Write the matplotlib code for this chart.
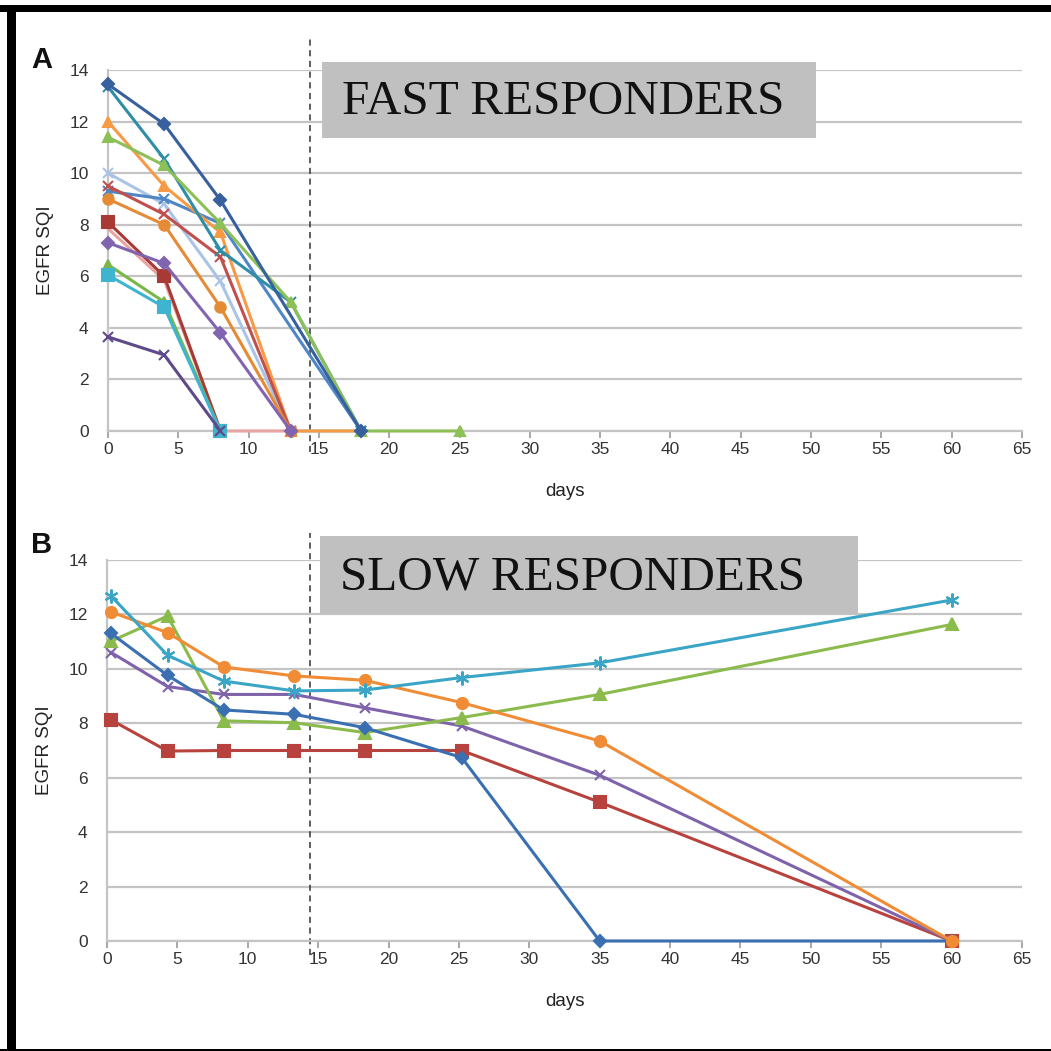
import matplotlib
matplotlib.use("Agg")
import matplotlib.pyplot as plt
from matplotlib.patches import Rectangle

plt.rcParams["font.family"] = ["Liberation Sans", "DejaVu Sans"]

# ---------------- data ----------------
a_days = [0, 4, 8, 13, 18, 25]
a_dark_blue = [13.45, 11.9, 8.95, None, 0, None]
a_teal = [13.35, 10.55, 7.0, 5.0, 0, None]
a_orange_tri = [12.0, 9.5, 7.7, 0, 0, None]
a_light_green = [11.4, 10.3, 8.05, 5.0, 0, 0]
a_light_blue = [10.0, 8.8, 5.8, 0, 0, None]
a_mid_blue = [9.3, 9.0, 8.05, None, 0, None]
a_red = [9.5, 8.4, 6.75, 0, None, None]
a_orange_circ = [9.0, 8.0, 4.8, 0, None, None]
a_dark_red = [8.1, 6.0, 0, None, None, None]
a_pink = [7.85, 5.85, 0, 0, None, None]
a_purple = [7.3, 6.5, 3.8, 0, None, None]
a_green = [6.45, 5.0, 0, None, None, None]
a_cyan = [6.05, 4.8, 0, None, None, None]
a_dark_purple = [3.65, 2.95, 0, None, None, None]

b_days = [0.3, 4.3, 8.3, 13.3, 18.3, 25.2, 35, 60]
b_teal = [12.67, 10.5, 9.55, 9.19, 9.22, 9.68, 10.22, 12.53]
b_orange = [12.09, 11.33, 10.07, 9.74, 9.58, 8.76, 7.35, 0]
b_blue = [11.3, 9.76, 8.49, 8.33, 7.84, 6.74, 0, 0]
b_green = [11.02, 11.94, 8.09, 8.02, 7.66, 8.21, 9.06, 11.63]
b_purple = [10.6, 9.35, 9.06, 9.06, 8.57, 7.9, 6.09, 0]
b_red = [8.12, 6.98, 7.0, 7.0, 7.0, 7.0, 5.1, 0]

x_ticks = list(range(0, 70, 5))
y_ticks = list(range(0, 16, 2))
ylabel = "EGFR SQI"
xlabel = "days"
title_a = "FAST RESPONDERS"
title_b = "SLOW RESPONDERS"
cut_day = 14.4

AST = (6, 2, 0)

a_series = [
    (a_light_blue, "#a9c4e6", "x", 6.5),
    (a_pink, "#e8a4a0", None, 0),
    (a_mid_blue, "#4f86c6", "x", 6.5),
    (a_orange_tri, "#f79a45", "^", 7),
    (a_red, "#c0504d", "x", 6.5),
    (a_orange_circ, "#e58a35", "o", 7.5),
    (a_dark_red, "#a83a36", "s", 8),
    (a_purple, "#8064b0", "D", 6),
    (a_green, "#7ab648", "^", 7.5),
    (a_cyan, "#3fb4cf", "s", 8),
    (a_dark_purple, "#5e4a8a", "x", 6.5),
    (a_teal, "#2e8ea8", "x", 6.5),
    (a_light_green, "#8dc056", "^", 7),
    (a_dark_blue, "#36609e", "D", 6.5),
]

b_series = [
    (b_red, "#b8433e", "s", 8),
    (b_purple, "#7f63aa", "x", 7.5),
    (b_green, "#8bbb4c", "^", 8),
    (b_blue, "#3a70b2", "D", 6.5),
    (b_orange, "#f08c35", "o", 8),
    (b_teal, "#3aa5c6", AST, 10),
]

W = 1051
fig = plt.figure(figsize=(W / 100, W / 100), dpi=100)
fig.patch.set_facecolor("white")

def fx(px):
    return px / W

def fy(py):
    return 1 - py / W

ax_a = fig.add_axes([fx(108), fy(431), fx(1022) - fx(108), fy(70) - fy(431)])
ax_b = fig.add_axes([fx(107), fy(941), fx(1022) - fx(107), fy(560) - fy(941)])

def style(ax):
    ax.set_xlim(0, 65)
    ax.set_ylim(0, 14)
    ax.set_xticks(x_ticks)
    ax.set_yticks(y_ticks)
    ax.grid(axis="y", color="#c4c4c4", lw=1.6)
    ax.set_axisbelow(True)
    for s in ["top", "right"]:
        ax.spines[s].set_visible(False)
    ax.spines["left"].set_color("#c4c4c4")
    ax.spines["left"].set_linewidth(1.6)
    ax.spines["bottom"].set_color("#c4c4c4")
    ax.spines["bottom"].set_linewidth(1.6)
    ax.tick_params(axis="y", length=0, pad=14, labelsize=12.5, labelcolor="#333333")
    ax.tick_params(axis="x", length=5, width=1.2, color="#999999", direction="out",
                   pad=3, labelsize=12.5, labelcolor="#333333")
    ax.set_xlabel(xlabel, fontsize=13.5, color="#222222", labelpad=19)
    ax.set_ylabel(ylabel, fontsize=13.5, color="#222222", labelpad=11)

def draw(ax, days, series):
    for vals, col, mk, ms in series:
        xs = [d for d, v in zip(days, vals) if v is not None]
        ys = [v for v in vals if v is not None]
        ax.plot(xs, ys, color=col, lw=2.2, marker=mk, ms=ms, mew=1.5,
                mec=col, mfc=col, clip_on=False, zorder=3)

style(ax_a)
style(ax_b)
draw(ax_a, a_days, a_series)
draw(ax_b, b_days, b_series)

ax_a.plot([cut_day, cut_day], [-0.8, 15.3], ls=(0, (4, 3)), color="#333333",
          lw=1.1, clip_on=False, zorder=2)
ax_b.plot([cut_day, cut_day], [-0.5, 15.0], ls=(0, (4, 3)), color="#333333",
          lw=1.1, clip_on=False, zorder=2)

# title boxes
fig.patches.append(Rectangle((fx(322), fy(138)), fx(816) - fx(322), fy(62) - fy(138),
                             transform=fig.transFigure, facecolor="#c0c0c0",
                             edgecolor="none", zorder=5))
fig.text(fx(342), fy(102), title_a, fontsize=35.5, family="Liberation Serif",
         va="center", ha="left", color="#111111", zorder=6)
fig.patches.append(Rectangle((fx(320), fy(614)), fx(858) - fx(320), fy(536) - fy(614),
                             transform=fig.transFigure, facecolor="#c0c0c0",
                             edgecolor="none", zorder=5))
fig.text(fx(340), fy(578), title_b, fontsize=35.5, family="Liberation Serif",
         va="center", ha="left", color="#111111", zorder=6)

fig.text(fx(42), fy(60), "A", fontsize=21, fontweight="bold", va="center",
         ha="center", color="#111111")
fig.text(fx(42), fy(545), "B", fontsize=21, fontweight="bold", va="center",
         ha="center", color="#111111")

# black frame
fig.patches.append(Rectangle((0, fy(12)), 1, fy(5) - fy(12),
                             transform=fig.transFigure, facecolor="black",
                             edgecolor="none"))
fig.patches.append(Rectangle((fx(7), 0), fx(9), fy(5),
                             transform=fig.transFigure, facecolor="black",
                             edgecolor="none"))
fig.patches.append(Rectangle((0, 0), 1, fx(2),
                             transform=fig.transFigure, facecolor="black",
                             edgecolor="none"))

fig.savefig("out.png", dpi=100, facecolor="white")
